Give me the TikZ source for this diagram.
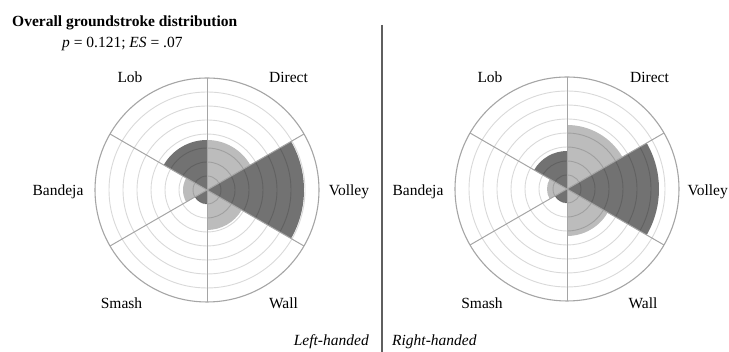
\documentclass[tikz,border=0pt]{standalone}
\usepackage{fontspec}
\setmainfont{Liberation Serif}
\definecolor{sectordark}{RGB}{114,114,114}
\definecolor{sectorlight}{RGB}{188,188,188}
\definecolor{gridgrey}{RGB}{165,165,165}
\definecolor{dividergrey}{RGB}{95,95,95}
\tikzset{
  darkfill/.style={fill=sectordark},
  lightfill/.style={fill=sectorlight},
  ringline/.style={draw=black, draw opacity=0.15, line width=0.9pt},
  spokeline/.style={draw=gridgrey, line width=1pt},
  outerline/.style={draw=gridgrey, line width=1.1pt},
  lbl/.style={font=\fontsize{15.5}{18}\selectfont, inner sep=0pt, anchor=base},
}

\begin{document}
\begin{tikzpicture}[x=1pt, y=1pt]
\useasboundingbox (0,0) rectangle (729,352);

\node[lbl, anchor=base west, font=\fontsize{15.5}{18}\selectfont\bfseries] (title) at (12,325.5) {Overall groundstroke distribution};
\node[lbl, anchor=base west] (stats) at (62,304.5) {\textit{p} = 0.121; \textit{ES} = .07};

\begin{scope}[shift={(207,162)}]
\foreach \a/\r/\s in {30/50/lightfill, 90/50/darkfill, 150/24/lightfill, 210/14/darkfill, 270/40/lightfill, -30/97/darkfill}
  \fill[\s] (0,0) -- (\a:\r) arc[start angle=\a, delta angle=60, radius=\r] -- cycle;
\foreach \k in {1,...,7}
  \draw[ringline] (0,0) circle[radius=14*\k];
\foreach \a in {30,90,...,330}
  \draw[spokeline] (0,0) -- (\a:112);
\draw[outerline] (0,0) circle[radius=112];
\end{scope}

\begin{scope}[shift={(567,163)}]
\foreach \a/\r/\s in {30/64/lightfill, 90/38/darkfill, 150/20/lightfill, 210/14/darkfill, 270/47/lightfill, -30/92/darkfill}
  \fill[\s] (0,0) -- (\a:\r) arc[start angle=\a, delta angle=60, radius=\r] -- cycle;
\foreach \k in {1,...,7}
  \draw[ringline] (0,0) circle[radius=14*\k];
\foreach \a in {30,90,...,330}
  \draw[spokeline] (0,0) -- (\a:112);
\draw[outerline] (0,0) circle[radius=112];
\end{scope}

\node[lbl] (lobL) at (130,269) {Lob};
\node[lbl] (directL) at (288.5,269) {Direct};
\node[lbl] (bandejaL) at (58,156) {Bandeja};
\node[lbl] (volleyL) at (349,156) {Volley};
\node[lbl] (smashL) at (121.5,43.5) {Smash};
\node[lbl] (wallL) at (283.5,43.5) {Wall};

\node[lbl] (lobR) at (490,269) {Lob};
\node[lbl] (directR) at (649.5,269) {Direct};
\node[lbl] (bandejaR) at (418,156) {Bandeja};
\node[lbl, anchor=base east] (volleyR) at (728,156) {Volley};
\node[lbl] (smashR) at (482,43.5) {Smash};
\node[lbl] (wallR) at (643,43.5) {Wall};

\coordinate (divtop) at (382,327);
\coordinate (divbot) at (382,0);
\draw[dividergrey, line width=1.5pt] (divtop) -- (divbot);
\node[lbl, anchor=base east] (lefthand) at (369,6) {\textit{Left-handed}};
\node[lbl, anchor=base west] (righthand) at (392,6) {\textit{Right-handed}};
\end{tikzpicture}
\end{document}
